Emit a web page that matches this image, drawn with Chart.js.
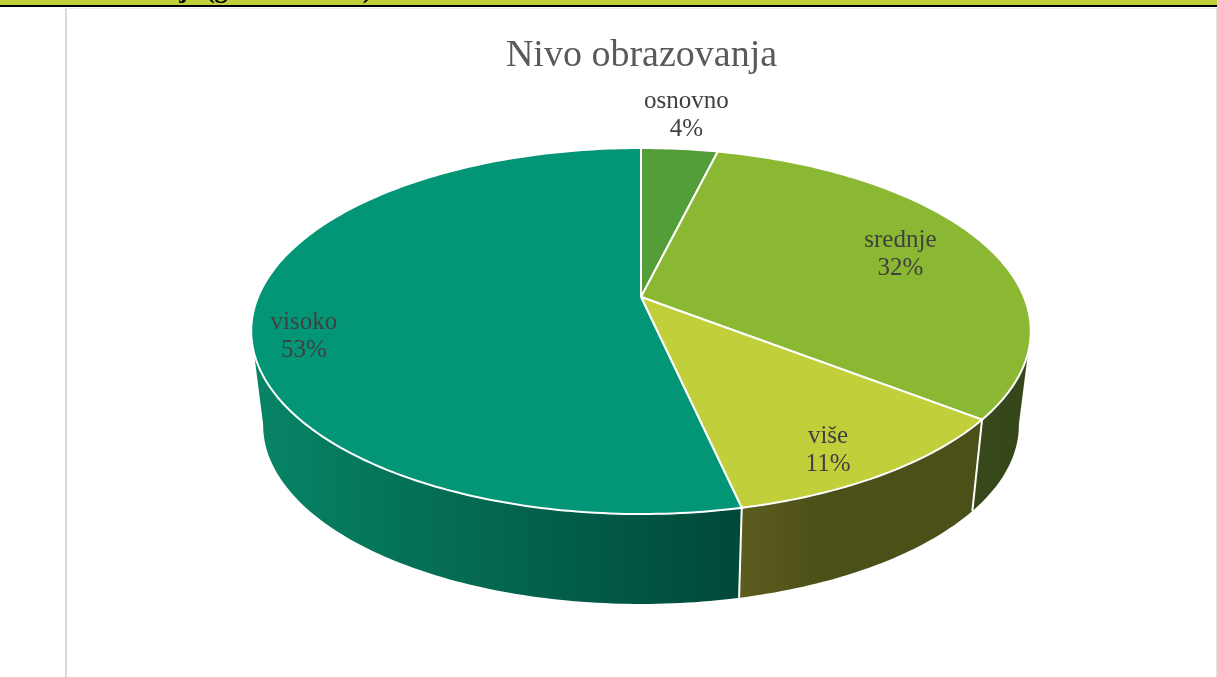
<!DOCTYPE html>
<html>
<head>
<meta charset="utf-8">
<style>
  html, body { margin: 0; padding: 0; background: #fff; overflow: hidden; }
  #band { position: absolute; left: 0; top: 0; width: 1217px; height: 5px; background: #c0cf3a; border-bottom: 2px solid #000; overflow: hidden; }
  #band span { position: absolute; left: 55px; top: -25px; font: bold 26px "Liberation Serif", serif; color: #000; white-space: nowrap; }
  #rule-left { position: absolute; left: 65px; top: 8px; width: 2px; height: 669px; background: #d9d9d9; }
  #rule-top { position: absolute; left: 65px; top: 8px; width: 1152px; height: 1px; background: #ececec; }
  #rule-right { position: absolute; left: 1216px; top: 8px; width: 1px; height: 669px; background: #e4e4e4; }
  #pie { position: absolute; left: 0; top: 0; }
</style>
</head>
<body>
<div id="band"><span>Obrazovanje (godina života)</span></div>
<div id="rule-left"></div>
<div id="rule-top"></div>
<div id="rule-right"></div>
<canvas id="pie" width="1217" height="677"></canvas>
<script src="https://cdn.jsdelivr.net/npm/chart.js@4"></script>
<script>
// data
const categories = ['osnovno', 'srednje', 'više', 'visoko'];
const shares = [3.8, 31.7, 11.0, 53.4];
const topColors = ['#549e39', '#8ab833', '#c0cf3a', '#029676'];

// side wall shading, left colour then right colour
const wallLeft = ['#34441a', '#37481a', '#5c5c1e', '#078566'];
const wallRight = ['#34441a', '#35461a', '#4b4f18', '#004838'];

// where each label sits: fraction of the radius, then a small vertical nudge
const labelRadius = [1.22, 0.75, 0.8, 0.87];
const labelNudge = [-8, -2, 16, 21];

// the top and bottom disc of the pie, seen in perspective
const topDisc = { x: 641, y: 297, a: 176.7, b: 383, k: 0.1858 };
const bottomDisc = { x: 641, y: 391, a: 172.5, b: 371, k: 0.19 };

// angle in chart.js starts at 12 o'clock = -PI/2
function project(disc, angle, r) {
    const u = Math.cos(angle) * r;
    const v = -Math.sin(angle) * r;
    const w = 1 + disc.k * v;
    return { x: disc.x + disc.b * u / w, y: disc.y - disc.a * v / w };
}

function traceRim(ctx, disc, from, to, first) {
    const steps = Math.max(2, Math.ceil(Math.abs(to - from) * 60));
    for (let i = 0; i <= steps; i++) {
        const p = project(disc, from + (to - from) * i / steps, 1);
        if (i === 0 && first) ctx.moveTo(p.x, p.y);
        else ctx.lineTo(p.x, p.y);
    }
}

const pie3d = {
    id: 'pie3d',
    beforeDatasetsDraw(chart) {
        const ctx = chart.ctx;
        const arcs = chart.getDatasetMeta(0).data;

        // walls first, clamped to the part of the rim that faces us
        ctx.save();
        const edge = Math.asin(topDisc.k);
        arcs.forEach((arc, i) => {
            const from = Math.max(arc.startAngle, edge);
            const to = Math.min(arc.endAngle, Math.PI - edge);
            if (to <= from) return;
            const a = project(topDisc, from, 1);
            const b = project(topDisc, to, 1);
            const left = Math.min(a.x, b.x);
            const right = Math.max(a.x, b.x);
            const grad = ctx.createLinearGradient(left, 0, right, 0);
            grad.addColorStop(0, wallLeft[i]);
            if (i === 2) grad.addColorStop(0.35, wallRight[i]);
            grad.addColorStop(1, wallRight[i]);
            ctx.beginPath();
            traceRim(ctx, topDisc, from, to, true);
            traceRim(ctx, bottomDisc, to, from, false);
            ctx.closePath();
            ctx.fillStyle = grad;
            ctx.fill();
        });

        // white seams between the walls
        ctx.strokeStyle = '#fff';
        ctx.lineWidth = 2;
        arcs.forEach(arc => {
            const angle = arc.endAngle;
            if (angle > edge && angle < Math.PI - edge) {
                const a = project(topDisc, angle, 1);
                const b = project(bottomDisc, angle, 1);
                ctx.beginPath();
                ctx.moveTo(a.x, a.y);
                ctx.lineTo(b.x, b.y);
                ctx.stroke();
            }
        });

        // top faces
        arcs.forEach((arc, i) => {
            ctx.beginPath();
            ctx.moveTo(topDisc.x, topDisc.y);
            traceRim(ctx, topDisc, arc.startAngle, arc.endAngle, false);
            ctx.closePath();
            ctx.fillStyle = topColors[i];
            ctx.fill();
            ctx.stroke();
        });

        // labels
        const total = shares.reduce((sum, s) => sum + s, 0);
        ctx.fillStyle = '#404040';
        ctx.font = '25px "Liberation Serif", serif';
        ctx.textAlign = 'center';
        ctx.textBaseline = 'middle';
        arcs.forEach((arc, i) => {
            const mid = (arc.startAngle + arc.endAngle) / 2;
            const p = project(topDisc, mid, labelRadius[i]);
            ctx.fillText(categories[i], p.x, p.y + labelNudge[i] - 13);
            ctx.fillText(Math.round(shares[i] / total * 100) + '%', p.x, p.y + labelNudge[i] + 15);
        });
        ctx.restore();

        // the arcs are painted above, skip the flat default drawing
        return false;
    }
};

new Chart(document.getElementById('pie'), {
    type: 'pie',
    data: {
        labels: categories,
        datasets: [{
            data: shares,
            backgroundColor: topColors
        }]
    },
    options: {
        responsive: false,
        animation: false,
        layout: { padding: { top: 33, left: 66 } },
        plugins: {
            legend: { display: false },
            tooltip: { enabled: false },
            title: {
                display: true,
                text: 'Nivo obrazovanja',
                color: '#595959',
                font: { family: '"Liberation Serif", serif', size: 38, weight: 'normal' },
                padding: 0
            }
        }
    },
    plugins: [pie3d]
});
</script>
</body>
</html>
